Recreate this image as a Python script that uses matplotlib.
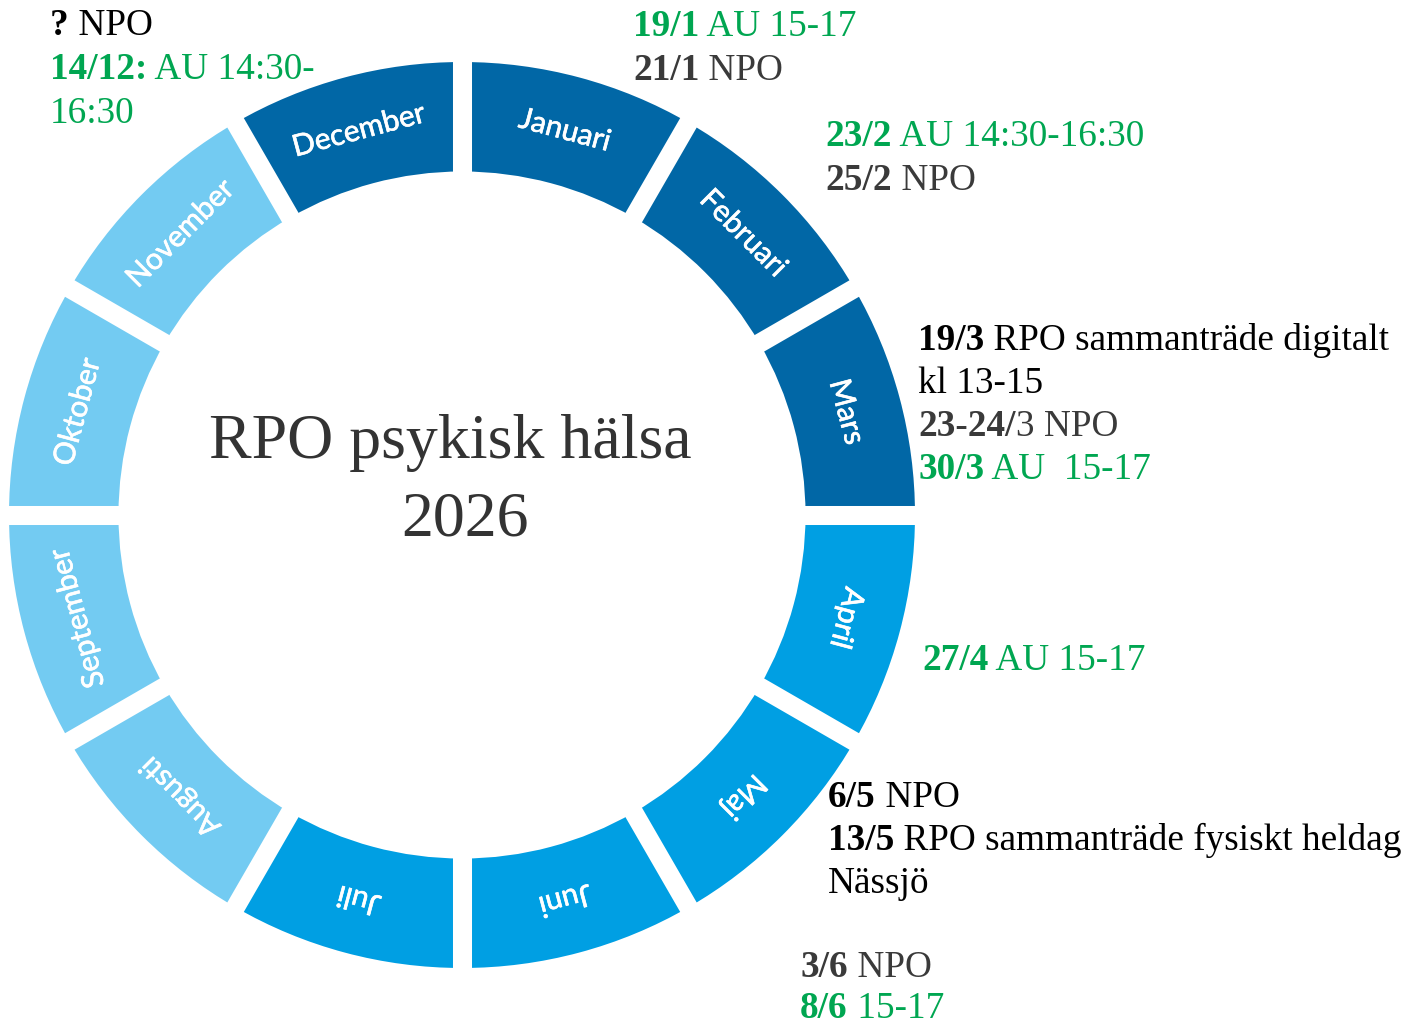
import numpy as np
import matplotlib.pyplot as plt
import matplotlib.patheffects as pe

# Årshjul - RPO psykisk hälsa 2026
months = ['Januari', 'Februari', 'Mars', 'April', 'Maj', 'Juni',
          'Juli', 'Augusti', 'September', 'Oktober', 'November', 'December']
month_share = [1] * 12
month_group = ['q1', 'q1', 'q1', 'q2', 'q2', 'q2',
               'q2', 'q3', 'q3', 'q3', 'q3', 'q1']

# meeting notes per month block: (bold part, plain part, kind)
notes_dec = [('?', ' NPO', 'rpo'), ('14/12:', ' AU 14:30-', 'au'), ('', '16:30', 'au')]
notes_jan = [('19/1', ' AU 15-17', 'au'), ('21/1', ' NPO', 'npo')]
notes_feb = [('23/2', ' AU 14:30-16:30', 'au'), ('25/2', ' NPO', 'npo')]
notes_mar = [('19/3', ' RPO sammanträde digitalt', 'rpo'), ('', 'kl 13-15', 'rpo'),
             ('23-24/', '3 NPO', 'npo'), ('30/3', ' AU  15-17', 'au')]
notes_apr = [('27/4', ' AU 15-17', 'au')]
notes_maj = [('6/5', ' NPO', 'rpo'), ('13/5', ' RPO sammanträde fysiskt heldag', 'rpo'),
             ('', 'Nässjö', 'rpo')]
notes_jun = [('3/6', ' NPO', 'npo'), ('8/6', ' 15-17', 'au')]

title_lines = ['RPO psykisk hälsa', '2026']

ring_colors = {'q1': '#0167a6', 'q2': '#009fe3', 'q3': '#73cbf2'}
note_colors = {'rpo': '#000000', 'npo': '#3a3a3a', 'au': '#00a651'}

W, H = 1404, 1027
fig = plt.figure(figsize=(W / 100, H / 100), dpi=100)
ax = fig.add_axes([0, 0, 1, 1])

cx, cy = 462, H - 515
R_out, R_in = 453, 343.5

wedges, _ = ax.pie(month_share, radius=R_out, center=(cx, cy), startangle=90,
                   counterclock=False, colors=[ring_colors[g] for g in month_group],
                   wedgeprops=dict(width=R_out - R_in, linewidth=0))

# white gaps between the months (parallel edges)
for w in wedges:
    a = np.deg2rad(w.theta1)
    ax.plot([cx + (R_in - 20) * np.cos(a), cx + (R_out + 20) * np.cos(a)],
            [cy + (R_in - 20) * np.sin(a), cy + (R_out + 20) * np.sin(a)],
            color='white', lw=13.7, solid_capstyle='butt')

for w, name in zip(wedges, months):
    mid = (w.theta1 + w.theta2) / 2
    a = np.deg2rad(mid)
    rr = (R_out + R_in) / 2
    ax.text(cx + rr * np.cos(a), cy + rr * np.sin(a), name, rotation=mid - 90,
            rotation_mode='anchor', ha='center', va='center',
            color='white', fontsize=21.5, family='Lato',
            path_effects=[pe.withStroke(linewidth=0.45, foreground='white')])

ax.text(450, H - 458, title_lines[0], ha='center', va='baseline',
        fontsize=46, family='Liberation Serif', color='#333333')
ax.text(465, H - 535, title_lines[1], ha='center', va='baseline',
        fontsize=46, family='Liberation Serif', color='#333333')


def note_block(x, y_ref, lines, step=44):
    for i, (bold, plain, kind) in enumerate(lines):
        c = note_colors[kind]
        y = H - (y_ref + i * step)
        kw = dict(fontsize=26.8, family='Liberation Serif', color=c)
        if bold:
            t = ax.text(x, y, bold, va='baseline', fontweight='bold', **kw)
            ax.annotate(plain, xy=(1, 0), xycoords=t, va='bottom', ha='left', **kw)
        else:
            ax.text(x, y, plain, va='baseline', **kw)


note_block(50, 35, notes_dec)
note_block(633, 36, notes_jan)
note_block(825, 146, notes_feb)
note_block(918, 350, notes_mar, step=43)
note_block(922, 670, notes_apr)
note_block(828, 807, notes_maj, step=43)
note_block(800, 977, notes_jun, step=41)

ax.set_xlim(0, W)
ax.set_ylim(0, H)
ax.axis('off')
fig.savefig('out.png', dpi=100)
